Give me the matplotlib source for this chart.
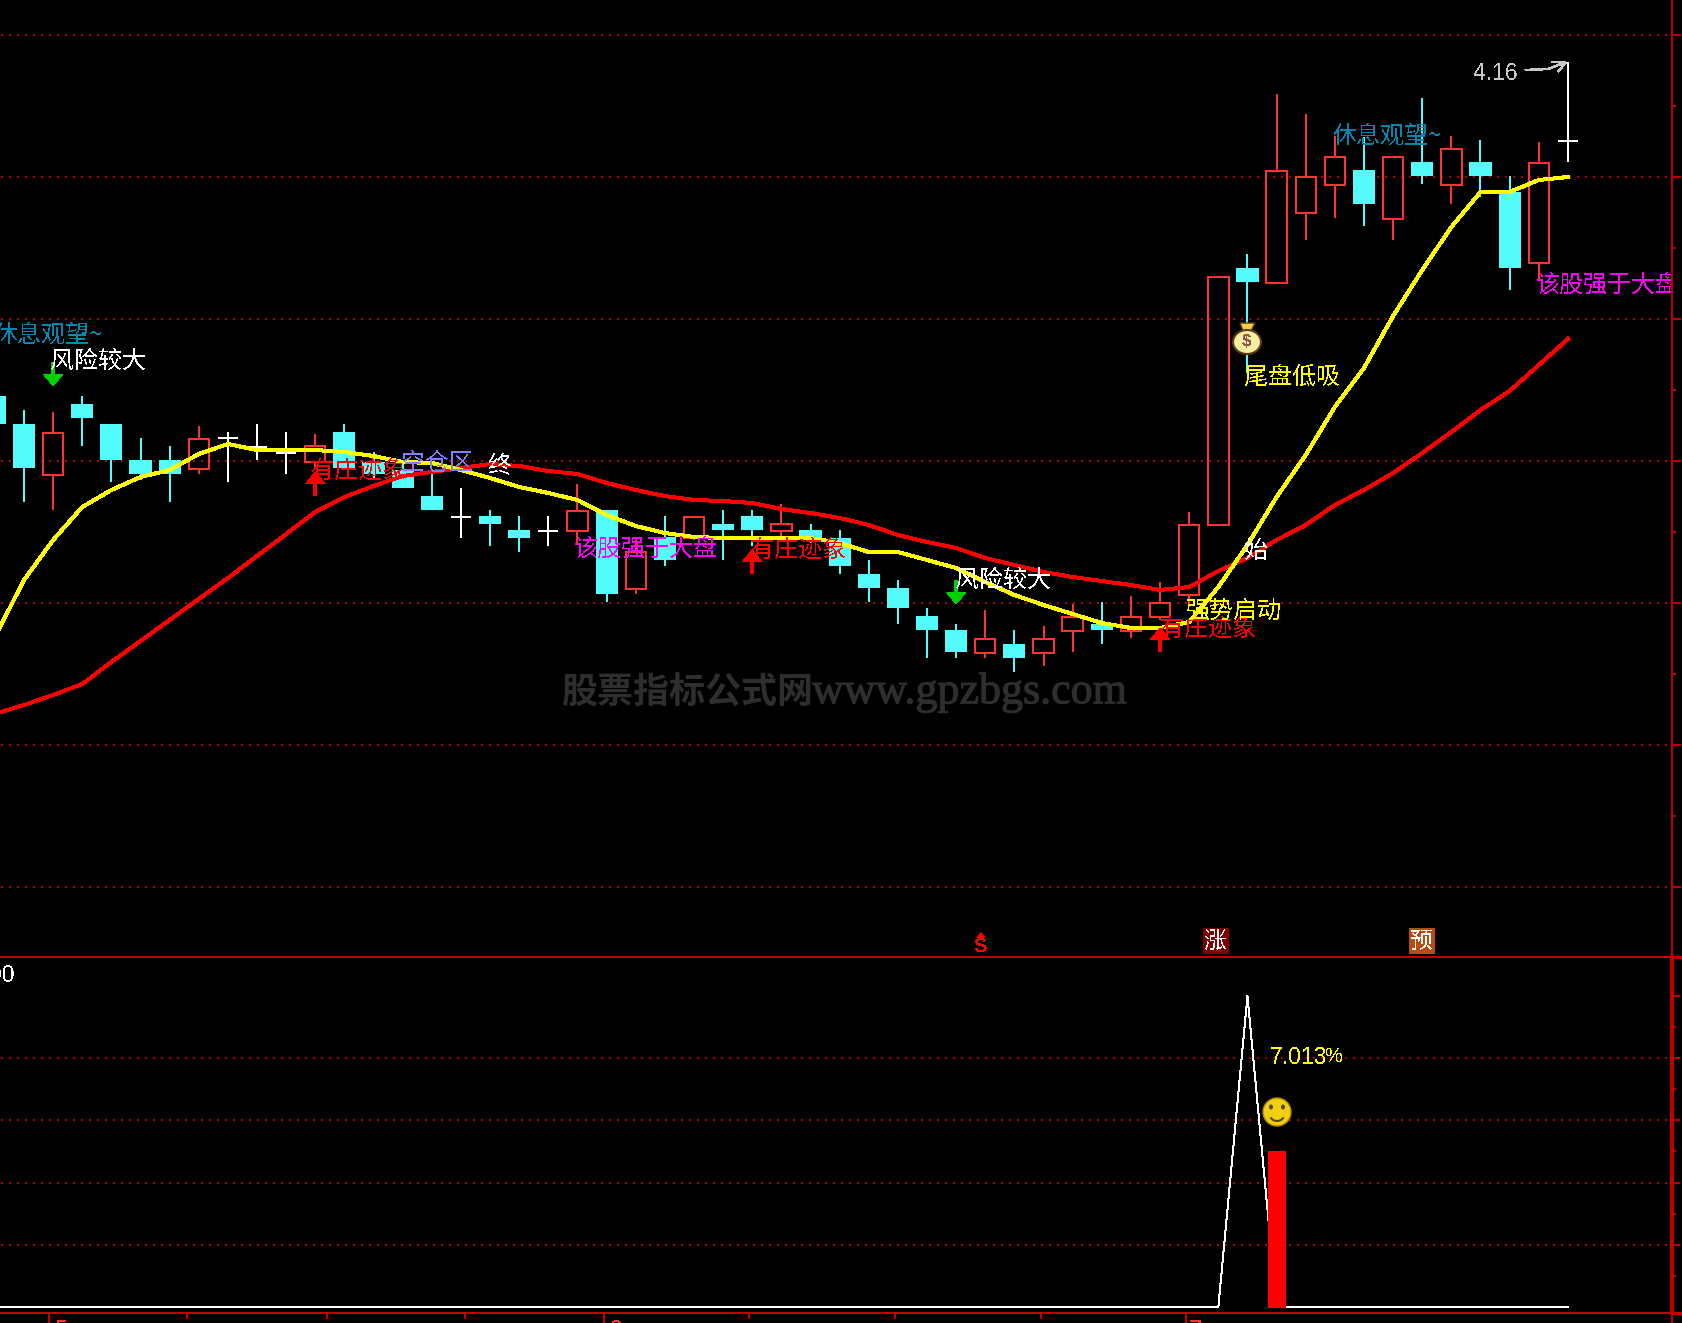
import numpy as np
import matplotlib
matplotlib.use("Agg")
import matplotlib.pyplot as plt
import matplotlib.patheffects as pe
from matplotlib.patches import Rectangle, Polygon, Ellipse, Arc
from matplotlib.lines import Line2D
from matplotlib.transforms import Affine2D, Bbox

plt.rcParams['font.family'] = ['Noto Sans CJK SC', 'DejaVu Sans']
plt.rcParams['text.antialiased'] = False

# ---- data -------------------------------------------------------------
index = list(range(-1, 54))
open_ = [3.826,3.798,3.747,3.818,3.798,3.762,3.762,3.753,3.784,3.775,3.769,3.760,3.790,3.760,3.752,3.726,3.705,3.706,3.692,3.691,3.691,3.712,3.633,3.685,3.684,3.698,3.706,3.691,3.692,3.684,3.648,3.634,3.606,3.592,3.569,3.578,3.569,3.591,3.598,3.591,3.605,3.627,3.697,3.954,3.939,4.009,4.037,4.052,4.003,4.060,4.037,4.060,4.030,3.959,4.081]
high  = [3.832,3.812,3.810,3.826,3.798,3.784,3.776,3.796,3.790,3.798,3.790,3.788,3.798,3.770,3.762,3.752,3.734,3.712,3.706,3.706,3.738,3.712,3.685,3.706,3.705,3.712,3.712,3.718,3.698,3.692,3.662,3.642,3.614,3.598,3.612,3.592,3.596,3.618,3.620,3.626,3.640,3.710,3.945,3.968,4.128,4.108,4.086,4.085,4.065,4.124,4.086,4.082,4.046,4.080,4.160]
low   = [3.786,3.720,3.712,3.776,3.740,3.742,3.720,3.748,3.740,3.762,3.748,3.754,3.754,3.742,3.734,3.712,3.684,3.676,3.670,3.676,3.679,3.620,3.628,3.656,3.682,3.662,3.676,3.682,3.679,3.648,3.620,3.598,3.564,3.564,3.564,3.550,3.556,3.570,3.578,3.584,3.602,3.615,3.697,3.849,3.939,3.982,4.004,3.996,3.982,4.038,4.018,4.025,3.932,3.942,4.060]
close = [3.798,3.754,3.789,3.804,3.762,3.748,3.748,3.783,3.784,3.775,3.769,3.776,3.754,3.748,3.734,3.712,3.705,3.698,3.684,3.691,3.711,3.628,3.670,3.662,3.705,3.692,3.692,3.698,3.682,3.656,3.634,3.614,3.592,3.570,3.583,3.564,3.583,3.605,3.592,3.605,3.619,3.697,3.945,3.940,4.051,4.045,4.065,4.018,4.065,4.046,4.073,4.046,3.954,4.059,4.081]
ma_yellow = [3.585,3.642,3.682,3.715,3.732,3.745,3.752,3.768,3.778,3.772,3.772,3.772,3.770,3.766,3.760,3.759,3.752,3.744,3.735,3.729,3.722,3.707,3.696,3.689,3.685,3.684,3.684,3.684,3.684,3.679,3.670,3.670,3.662,3.654,3.640,3.627,3.617,3.608,3.599,3.594,3.594,3.600,3.635,3.677,3.725,3.767,3.815,3.854,3.906,3.952,3.995,4.030,4.030,4.042,4.045]
ma_red = [3.508,3.517,3.527,3.538,3.560,3.581,3.602,3.623,3.644,3.666,3.688,3.710,3.725,3.736,3.746,3.750,3.754,3.758,3.756,3.751,3.748,3.739,3.732,3.726,3.722,3.721,3.719,3.713,3.709,3.704,3.697,3.687,3.680,3.674,3.664,3.657,3.650,3.645,3.641,3.637,3.632,3.635,3.651,3.664,3.682,3.697,3.717,3.732,3.749,3.769,3.790,3.812,3.831,3.857,3.883]
sub_line = [0]*43 + [100] + [0]*11
sub_bar_index = [43]
sub_bar_value = [50.5]
grid_top = [4.187,4.045,3.903,3.761,3.619,3.477,3.335]
minor_top = [4.116,3.974,3.832,3.690,3.548,3.406]
grid_sub = [20,40,60,80]
major_sub = [20,40,60,80,100]
minor_sub = [10,30,50,70,90]
xticks_major = [0.86,19.91,39.9]
xticks_minor = [5.6,10.4,15.13,24.9,29.9,34.9]
up_arrows = [(10,3.750,3.726),(25,3.672,3.648),(39,3.594,3.570)]
down_arrows = [(1,3.860,3.836),(32,3.642,3.618)]

W, H = 1682, 1323
AX = '#c00000'; GRID = '#b00000'
RED = '#ff3232'; CYAN = '#54fcfc'
PX = 0.72  # points per pixel at dpi 100

fig = plt.figure(figsize=(W/100, H/100), dpi=100, facecolor='black')
px = Affine2D().scale(1, -1).translate(0, H)

def make_axes(y0, y1, ylim):
    ax = fig.add_axes([0, 1-y1/H, 1672/W, (y1-y0)/H], facecolor='none')
    ax.set_xlim((0-24)/29.13, (1672-24)/29.13)
    ax.set_ylim(*ylim)
    for s in ('top', 'left', 'bottom'):
        ax.spines[s].set_visible(False)
    ax.spines['right'].set_color(AX)
    ax.xaxis.set_visible(False)
    ax.yaxis.tick_right()
    ax.tick_params(axis='y', which='major', length=9*PX, width=2*PX, color=AX, labelright=False)
    ax.tick_params(axis='y', which='minor', length=4*PX, width=2*PX, color=AX, labelright=False)
    return ax

# ---- price panel ------------------------------------------------------
ax = make_axes(0, 957, (3.265, 4.222))
ax.spines['right'].set_linewidth(2*PX)
ax.set_yticks(grid_top)
ax.set_yticks(minor_top, minor=True)
for g in grid_top:
    ax.axhline(g, xmin=1/1672, xmax=1668/1672, color=GRID, lw=2*PX, ls=(0, (1, 3)), antialiased=False, zorder=1)

for i, o, h_, l, c in zip(index, open_, high, low, close):
    top, bot = max(o, c), min(o, c)
    col = RED if c > o else (CYAN if c < o else 'white')
    kw = dict(color=col, lw=2*PX, antialiased=False, zorder=3, solid_capstyle='butt')
    if c == o:
        ax.plot([i, i], [l, h_], **kw)
        ax.plot([i-0.34, i+0.34], [c, c], **kw)
        continue
    ax.plot([i, i], [top, h_], **kw)
    ax.plot([i, i], [l, bot], **kw)
    if c > o:
        ax.add_patch(Rectangle((i-0.35, bot), 0.70, top-bot, fill=False, ec=col, lw=2*PX, antialiased=False, zorder=3))
    else:
        ax.add_patch(Rectangle((i-0.38, bot), 0.76, top-bot, fc=col, ec='none', antialiased=False, zorder=3))

ax.plot(index, ma_red, color='#ff0000', lw=3*PX, antialiased=False, zorder=4)
ax.plot(index, ma_yellow, color='#ffff00', lw=3*PX, antialiased=False, zorder=5)

def arrow(a, i, tip, tail, color):
    d = 0.012 if tip > tail else -0.012
    a.add_patch(Polygon([(i-0.34, tip-d), (i, tip), (i+0.34, tip-d)], fc=color, ec='none', antialiased=False, zorder=6))
    a.add_patch(Rectangle((i-0.07, min(tail, tip-d)), 0.14, abs(tail-(tip-d)), fc=color, ec='none', antialiased=False, zorder=6))
for i, tip, tail in up_arrows:
    arrow(ax, i, tip, tail, '#ff0000')
for i, tail, tip in down_arrows:
    arrow(ax, i, tip, tail, '#00d000')

# ---- sub panel --------------------------------------------------------
ax2 = make_axes(957, 1313, (-1.9, 112.5))
ax2.spines['right'].set_linewidth(4*PX)
ax2.set_yticks(major_sub)
ax2.set_yticks(minor_sub, minor=True)
ax2.tick_params(axis='y', which='major', length=8*PX, pad=0)
ax2.tick_params(axis='y', which='minor', length=4*PX, pad=0)
for g in grid_sub:
    ax2.axhline(g, xmin=1/1672, xmax=1668/1672, color=GRID, lw=2*PX, ls=(0, (1, 3)), antialiased=False, zorder=1)
ax2.plot(index, sub_line, color='white', lw=1*PX, antialiased=False, zorder=3)
arr = np.array(sub_line, float)
flat = np.ma.masked_where(np.array(index) == 42, arr)
ax2.plot(index, flat, color='white', lw=2*PX, antialiased=False, zorder=3)
ax2.bar(sub_bar_index, sub_bar_value, width=0.62, bottom=-0.3, color='#ff0000', antialiased=False, zorder=4)

# ---- frame ------------------------------------------------------------
def seg(x0, y0, x1, y1, color=AX, lw=2, aa=False, z=10):
    fig.add_artist(Line2D([x0, x1], [y0, y1], transform=px, color=color, lw=lw*PX, antialiased=aa,
                          solid_capstyle='butt', zorder=z))
seg(0, 957, 1672, 957)
seg(0, 1313, 1672, 1313)
seg(1672, 1313, 1672, 1323)
seg(1672, 957, 1682, 957, lw=3)
seg(1672, 1313, 1682, 1313, lw=3)
to_px = lambda v: 24 + 29.13*v
for t in xticks_major:
    seg(to_px(t), 1313, to_px(t), 1323)
for t in xticks_minor:
    seg(to_px(t), 1313, to_px(t), 1319)

# ---- texts ------------------------------------------------------------
clip = Bbox([[0, 0], [1671, H]])
def label(s, x, y, color, size=24, fam=None, ha='left', va='center', **kw):
    t = fig.text(x, y, s, transform=px, color=color, fontsize=size*PX, ha=ha, va=va,
                 family=fam or ['Noto Sans CJK SC', 'DejaVu Sans'], zorder=12, **kw)
    t.set_clip_box(clip); t.set_clip_on(True)
    return t

BLUE = '#0088b0'; PURPLE = '#8080ff'; MAG = '#ff00ff'; YEL = '#ffff00'
label('休息观望~', -6, 335, BLUE)
label('休息观望~', 1333, 136, BLUE)
label('风险较大', 50, 361, 'white')
label('风险较大', 955, 580, 'white')
label('有庄迹象', 310, 471, '#ff0000')
label('有庄迹象', 750, 550, '#ff0000')
label('有庄迹象', 1160, 629, '#ff0000')
label('空仓区', 401, 463, PURPLE)
label('终', 488, 467, 'white')
label('该股强于大盘', 574, 549, MAG)
label('该股强于大盘', 1536, 285, MAG)
label('强势启动', 1186, 611, YEL)
label('始', 1244, 551, 'white')
label('尾盘低吸', 1244, 377, YEL)

NUM = ['Liberation Sans']
label('4.16', 1474, 73, '#c8c8c8', size=23, fam=NUM)
label('00', 15, 975, 'white', size=23, fam=NUM, ha='right')
label('7.013', 1270, 1057, YEL, size=23, fam=NUM)
label('%', 1325, 1057, YEL, size=20, fam=NUM)
label('5', 55, 1320, RED, size=24, fam=NUM, va='top')
label('6', 609, 1320, RED, size=24, fam=NUM, va='top')
label('7', 1189, 1320, RED, size=24, fam=NUM, va='top')

seg(1525, 70, 1548, 69, color='#c8c8c8', lw=1.5)
seg(1548, 69, 1566, 62, color='#c8c8c8', lw=1.5)
seg(1551, 62, 1566, 62, color='#c8c8c8', lw=1.5)
seg(1566, 62, 1558, 72, color='#c8c8c8', lw=1.5)

plt.rcParams['text.antialiased'] = True
wm1 = label('股票指标公式网', 561, 693, '#2e2e2e', size=36, fontweight='bold')
wm2 = label('www.gpzbgs.com', 812, 692, '#2e2e2e', size=44, fam=['Liberation Serif'])
wm2.set_path_effects([pe.withStroke(linewidth=0.8, foreground='#2e2e2e')])

# ---- icons ------------------------------------------------------------
plt.rcParams['text.antialiased'] = False
def add(p):
    p.set_transform(px); p.set_zorder(13); fig.add_artist(p)

# markers above separator
add(Rectangle((1203, 928), 26, 26, fc='#800000', ec='none'))
add(Rectangle((1409, 928), 26, 26, fc='#b84c10', ec='none'))
label('涨', 1216, 941, 'white', size=23, ha='center').set_zorder(14)
label('预', 1422, 941, 'white', size=23, ha='center').set_zorder(14)
add(Polygon([(976, 938), (981, 932), (986, 938)], fc='#ff0000', ec='none'))
label('S', 981, 947, '#ff0000', size=20, fam=NUM, ha='center', fontweight='bold')

# money bag
add(Polygon([(1240, 323), (1255, 323), (1251, 331), (1243, 331)], fc='#f0d040', ec='#603818', lw=1))
add(Ellipse((1247, 342), 28, 24, fc='#f8eea0', ec='#603818', lw=1.5))
label('$', 1247, 342, '#8a5a50', size=17, fam=NUM, ha='center', fontweight='bold').set_zorder(14)

# smiley
add(Ellipse((1277, 1112), 28, 28, fc='#f0d010', ec='#b08a00', lw=1))
add(Ellipse((1271, 1107), 4, 5, fc='#5a4800', ec='none'))
add(Ellipse((1283, 1107), 4, 5, fc='#5a4800', ec='none'))
add(Arc((1277, 1115), 14, 12, theta1=20, theta2=160, ec='#5a4800', lw=1.5))

fig.savefig('out.png', dpi=100, facecolor='black')
